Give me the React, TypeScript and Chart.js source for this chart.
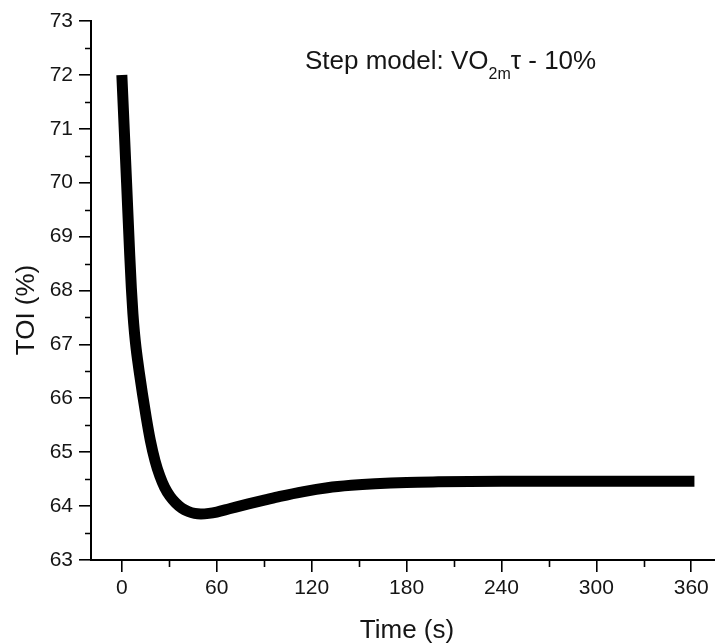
import React, { useEffect, useRef } from "react";
import { Chart, registerables } from "chart.js";

Chart.register(...registerables);

const timeS = [0, 3, 5, 6, 7, 8, 9, 10, 11, 13, 15.5, 18, 21, 24, 27, 30.5, 34, 38, 42, 46, 50, 55, 60, 68, 80, 90, 100, 115, 130, 145, 160, 180, 200, 240, 300, 362];
const toiPct = [72.0, 70.0, 68.65, 68.05, 67.57, 67.21, 66.93, 66.7, 66.49, 66.09, 65.63, 65.22, 64.84, 64.56, 64.35, 64.18, 64.06, 63.96, 63.9, 63.865, 63.855, 63.865, 63.89, 63.95, 64.04, 64.11, 64.18, 64.27, 64.34, 64.385, 64.415, 64.44, 64.45, 64.46, 64.46, 64.46];

const xTicks = [0, 60, 120, 180, 240, 300, 360];
const xMinorTicks = [30, 90, 150, 210, 270, 330];
const yTicks = [63, 64, 65, 66, 67, 68, 69, 70, 71, 72, 73];
const yMinorTicks = [63.5, 64.5, 65.5, 66.5, 67.5, 68.5, 69.5, 70.5, 71.5, 72.5];

const xTitle = "Time (s)";
const yTitle = "TOI (%)";
const noteMain = "Step model: VO";
const noteSub = "2m";
const noteTail = "τ - 10%";

const FONT = "'Liberation Sans', Arial, sans-serif";

const decorPlugin = {
  id: "decor",
  afterDraw(chart: any) {
    const ctx = chart.ctx;
    const xs = chart.scales.x;
    const ys = chart.scales.y;
    const area = chart.chartArea;
    ctx.save();
    ctx.strokeStyle = "#000";
    ctx.lineWidth = 1.6;
    ctx.beginPath();
    for (const v of xMinorTicks) {
      const px = Math.round(xs.getPixelForValue(v)) + 0.5;
      ctx.moveTo(px, area.bottom);
      ctx.lineTo(px, area.bottom + 7);
    }
    for (const v of yMinorTicks) {
      const py = Math.round(ys.getPixelForValue(v)) + 0.5;
      ctx.moveTo(area.left, py);
      ctx.lineTo(area.left - 6, py);
    }
    ctx.stroke();

    ctx.fillStyle = "#151515";
    ctx.font = `26px ${FONT}`;
    ctx.textAlign = "center";
    ctx.textBaseline = "alphabetic";
    ctx.fillText(xTitle, (area.left + area.right) / 2 + 4, 638);
    ctx.save();
    ctx.translate(34, 310);
    ctx.rotate(-Math.PI / 2);
    ctx.fillText(yTitle, 0, 0);
    ctx.restore();

    ctx.textAlign = "left";
    let x = 305;
    ctx.font = `26px ${FONT}`;
    ctx.fillText(noteMain, x, 69);
    x += ctx.measureText(noteMain).width;
    ctx.font = `16px ${FONT}`;
    ctx.fillText(noteSub, x, 79);
    x += ctx.measureText(noteSub).width;
    ctx.font = `26px ${FONT}`;
    ctx.fillText(noteTail, x, 69);
    ctx.restore();
  },
};

export default function App() {
  const ref = useRef<HTMLCanvasElement | null>(null);
  useEffect(() => {
    if (!ref.current) return;
    const chart = new Chart(ref.current, {
      type: "line",
      data: {
        datasets: [
          {
            data: timeS.map((t, i) => ({ x: t, y: toiPct[i] })),
            borderColor: "#000",
            backgroundColor: "#000",
            borderWidth: 11,
            pointRadius: 0,
            cubicInterpolationMode: "monotone",
            borderCapStyle: "butt",
            borderJoinStyle: "round",
            fill: false,
          },
        ],
      },
      options: {
        animation: false,
        responsive: false,
        maintainAspectRatio: false,
        layout: { padding: { top: 21, right: 0, left: 0, bottom: 0 } },
        plugins: { legend: { display: false }, tooltip: { enabled: false } },
        scales: {
          x: {
            type: "linear",
            min: -19.5,
            max: 375,
            afterBuildTicks: (s: any) => {
              s.ticks = xTicks.map((v) => ({ value: v }));
            },
            afterFit: (s: any) => {
              s.height = 83;
            },
            grid: {
              display: true,
              drawOnChartArea: false,
              drawTicks: true,
              tickLength: 12,
              color: "#000",
              lineWidth: 1.6,
            },
            border: { display: true, color: "#000", width: 2 },
            ticks: {
              font: { size: 21, family: FONT },
              color: "#151515",
              padding: 4,
              maxRotation: 0,
              autoSkip: false,
            },
          },
          y: {
            type: "linear",
            min: 63,
            max: 73,
            afterBuildTicks: (s: any) => {
              s.ticks = yTicks.map((v) => ({ value: v }));
            },
            afterFit: (s: any) => {
              s.width = 91;
            },
            grid: {
              display: true,
              drawOnChartArea: false,
              drawTicks: true,
              tickLength: 12,
              color: "#000",
              lineWidth: 1.6,
            },
            border: { display: true, color: "#000", width: 2 },
            ticks: {
              font: { size: 21, family: FONT },
              color: "#151515",
              padding: 6,
              autoSkip: false,
            },
          },
        },
      },
      plugins: [decorPlugin],
    });
    return () => chart.destroy();
  }, []);
  return (
    <div style={{ position: "fixed", left: 0, top: 0, width: 715, height: 643, background: "#fff" }}>
      <canvas ref={ref} width={715} height={643} style={{ width: 715, height: 643 }} />
    </div>
  );
}
